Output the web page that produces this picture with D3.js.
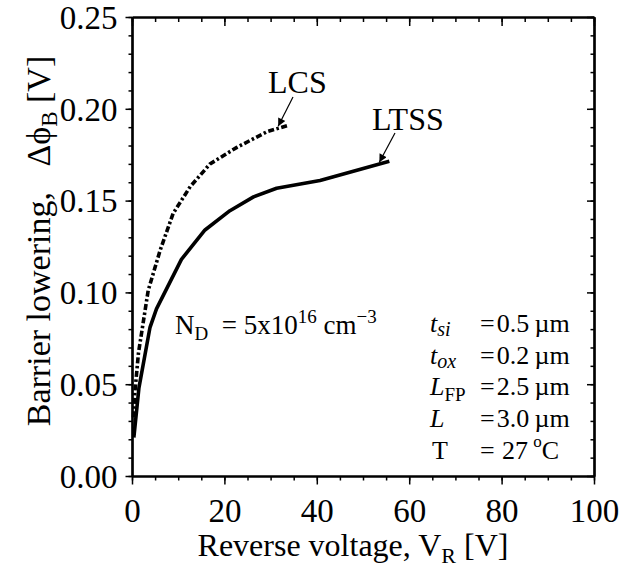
<!DOCTYPE html>
<html>
<head>
<meta charset="utf-8">
<script src="https://cdn.jsdelivr.net/npm/d3@7/dist/d3.min.js"></script>
<style>
  html, body { margin: 0; padding: 0; background: #fff; }
  svg { display: block; }
  text { font-family: "Liberation Serif", "Times New Roman", serif; fill: #000; }
</style>
</head>
<body>
<svg id="chart" width="627" height="569"></svg>
<script>
// ---- data ----
const ltssV   = [0.4, 1.5, 3.9, 5.3, 10.7, 15.8, 21.2, 26.3, 31.3, 40.7, 55.7];
const ltssPhi = [0.021, 0.048, 0.081, 0.091, 0.118, 0.134, 0.1445, 0.152, 0.1567, 0.161, 0.1714];
const lcsV    = [0.3, 0.6, 1.4, 3.5, 6.1, 8.9, 12.6, 16.9, 22.7, 29.2, 33.8];
const lcsPhi  = [0.032, 0.045, 0.067, 0.101, 0.123, 0.143, 0.1576, 0.170, 0.179, 0.1875, 0.191];
const xTicks  = [0, 20, 40, 60, 80, 100];
const yTicks  = [0.00, 0.05, 0.10, 0.15, 0.20, 0.25];
const xMinor  = d3.range(0, 101, 5);
const yMinor  = d3.range(0, 26, 1).map(d => d / 100);

const svg = d3.select("#chart");
const L = 132, R = 594, T = 17, B = 476;
const x = d3.scaleLinear().domain([0, 100]).range([L, R]);
const y = d3.scaleLinear().domain([0, 0.25]).range([B, T]);
const FONT = "Liberation Serif";

function styleAxis(g) {
  g.select(".domain").attr("stroke", "#000").attr("stroke-width", 2.2);
  g.selectAll(".tick line").attr("stroke", "#000").attr("stroke-width", 1.5);
}

// bottom axis: major + minor, outward
svg.append("g").attr("transform", `translate(0,${B})`)
  .call(d3.axisBottom(x).tickValues(xMinor).tickSize(4.5).tickFormat("").tickSizeOuter(0))
  .call(styleAxis);
const gb = svg.append("g").attr("transform", `translate(0,${B})`)
  .call(d3.axisBottom(x).tickValues(xTicks).tickSize(8.5).tickFormat(d3.format("d")).tickSizeOuter(0))
  .call(styleAxis);
gb.selectAll(".tick text").attr("font-size", 33).attr("font-family", FONT).attr("dy", "0.71em").attr("y", 23);

// top axis (ticks pointing down, inward)
svg.append("g").attr("transform", `translate(0,${T})`)
  .call(d3.axisBottom(x).tickValues(xMinor).tickSize(5).tickFormat("").tickSizeOuter(0))
  .call(styleAxis);
svg.append("g").attr("transform", `translate(0,${T})`)
  .call(d3.axisBottom(x).tickValues(xTicks).tickSize(9).tickFormat("").tickSizeOuter(0))
  .call(styleAxis);

// left axis: outward
svg.append("g").attr("transform", `translate(${L},0)`)
  .call(d3.axisLeft(y).tickValues(yMinor).tickSize(3.5).tickFormat("").tickSizeOuter(0))
  .call(styleAxis);
const gl = svg.append("g").attr("transform", `translate(${L},0)`)
  .call(d3.axisLeft(y).tickValues(yTicks).tickSize(6.5).tickPadding(8).tickFormat(d3.format(".2f")).tickSizeOuter(0))
  .call(styleAxis);
gl.selectAll(".tick text").attr("font-size", 33).attr("font-family", FONT).attr("dy", "0.34em");

// right axis (ticks pointing left, inward)
svg.append("g").attr("transform", `translate(${R},0)`)
  .call(d3.axisLeft(y).tickValues(yMinor).tickSize(3.5).tickFormat("").tickSizeOuter(0))
  .call(styleAxis);
svg.append("g").attr("transform", `translate(${R},0)`)
  .call(d3.axisLeft(y).tickValues(yTicks).tickSize(7).tickFormat("").tickSizeOuter(0))
  .call(styleAxis);

// curves
const line = d3.line().x(d => x(d[0])).y(d => y(d[1]));
svg.append("path")
  .datum(ltssV.map((v, i) => [v, ltssPhi[i]]))
  .attr("d", line).attr("fill", "none").attr("stroke", "#000")
  .attr("stroke-width", 3.6).attr("stroke-linejoin", "round");
svg.append("path")
  .datum(lcsV.map((v, i) => [v, lcsPhi[i]]))
  .attr("d", line).attr("fill", "none").attr("stroke", "#000")
  .attr("stroke-width", 3.6).attr("stroke-dasharray", "6,2.5,2.5,2.5");

// arrows
const defs = svg.append("defs");
defs.append("marker").attr("id", "ah").attr("viewBox", "0 0 10 10")
  .attr("refX", 10).attr("refY", 5).attr("markerWidth", 11).attr("markerHeight", 8)
  .attr("markerUnits", "userSpaceOnUse").attr("orient", "auto")
  .append("path").attr("d", "M0,0 L10,5 L0,10 Z").attr("fill", "#000");

function arrow(x1, y1, x2, y2) {
  svg.append("line").attr("x1", x1).attr("y1", y1).attr("x2", x2).attr("y2", y2)
    .attr("stroke", "#000").attr("stroke-width", 1.2).attr("marker-end", "url(#ah)");
}
arrow(293, 97, x(lcsV[lcsV.length - 1]) - 10, y(lcsPhi[lcsPhi.length - 1]) + 1);
arrow(395, 133, x(ltssV[ltssV.length - 1]) - 10, y(ltssPhi[ltssPhi.length - 1]) + 1);

svg.append("text").attr("x", 268).attr("y", 93).attr("font-size", 32).text("LCS");
svg.append("text").attr("x", 372).attr("y", 130).attr("font-size", 32).text("LTSS");

// N_D annotation
const nd = svg.append("text").attr("x", 175).attr("y", 334).attr("font-size", 27);
nd.append("tspan").text("N");
nd.append("tspan").attr("font-size", 19).attr("dy", 6).text("D");
nd.append("tspan").attr("dy", -6).text("\u00a0 = 5x10");
nd.append("tspan").attr("font-size", 19).attr("dy", -11).text("16");
nd.append("tspan").attr("dy", 11).text(" cm");
nd.append("tspan").attr("font-size", 19).attr("dy", -11).text("\u2212");
nd.append("tspan").attr("font-size", 19).text("3");

// parameter block
const rowY = [332, 363.5, 395, 427, 459];
const fs = 26;
function label(i, build) {
  const t = svg.append("text").attr("x", 430).attr("y", rowY[i]).attr("font-size", fs);
  build(t);
}
label(0, t => { t.append("tspan").attr("font-style", "italic").text("t");
  t.append("tspan").attr("font-style", "italic").attr("font-size", 20).attr("dy", 4).text("si"); });
label(1, t => { t.append("tspan").attr("font-style", "italic").text("t");
  t.append("tspan").attr("font-style", "italic").attr("font-size", 20).attr("dy", 4).text("ox"); });
label(2, t => { t.append("tspan").attr("font-style", "italic").text("L");
  t.append("tspan").attr("font-size", 19).attr("dy", 6).text("FP"); });
label(3, t => { t.append("tspan").attr("font-style", "italic").text("L"); });
label(4, t => { t.attr("x", 432).append("tspan").text("T"); });

const vals = ["=\u200a0.5\u2009\u00b5m", "=\u200a0.2\u2009\u00b5m", "=\u200a2.5\u2009\u00b5m", "=\u200a3.0\u2009\u00b5m"];
vals.forEach((v, i) => {
  svg.append("text").attr("x", 480).attr("y", rowY[i]).attr("font-size", fs).text(v);
});
const tt = svg.append("text").attr("x", 480).attr("y", rowY[4]).attr("font-size", fs);
tt.append("tspan").text("=\u2009\u200a27\u2009");
tt.append("tspan").attr("font-size", 17).attr("dy", -12).text("o");
tt.append("tspan").attr("dy", 12).text("C");

// axis titles
const xl = svg.append("text").attr("x", 353).attr("y", 556).attr("font-size", 32).attr("text-anchor", "middle");
xl.append("tspan").text("Reverse voltage, V");
xl.append("tspan").attr("font-size", 22).attr("dy", 7).text("R");
xl.append("tspan").attr("dy", -7).text(" [V]");

const yl = svg.append("text").attr("transform", "translate(50,241) rotate(-90)")
  .attr("font-size", 34).attr("text-anchor", "middle");
yl.append("tspan").text("Barrier lowering,\u00a0\u00a0\u00a0\u0394\u03d5");
yl.append("tspan").attr("font-size", 23).attr("dy", 7).text("B");
yl.append("tspan").attr("dy", -7).text(" [V]");
</script>
</body>
</html>
